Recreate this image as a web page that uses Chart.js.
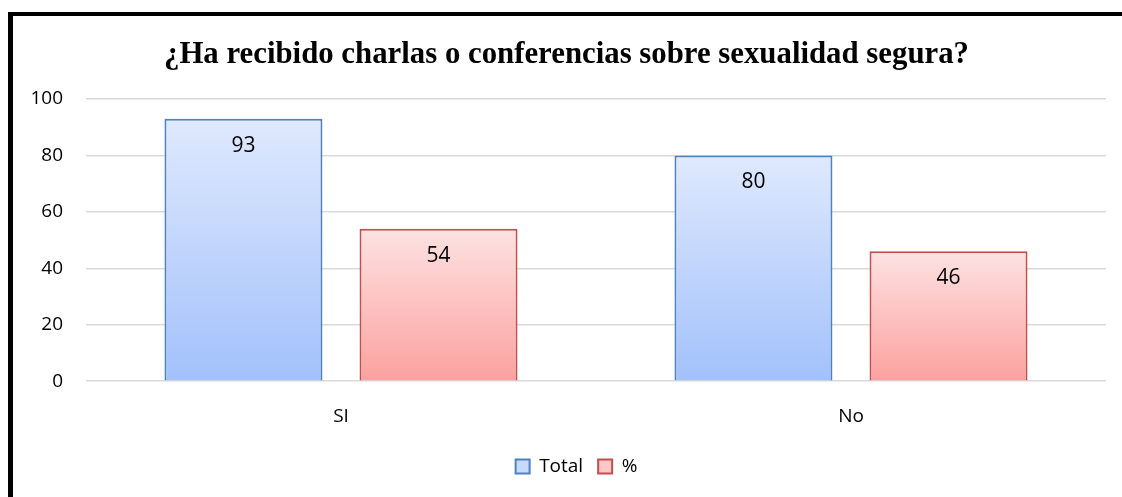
<!DOCTYPE html>
<html><head><meta charset="utf-8">
<script src="https://cdn.jsdelivr.net/npm/chart.js@4"></script>
<style>
html,body{margin:0;padding:0;background:#fff;overflow:hidden}
#frame{position:absolute;left:8px;top:12px;width:1300px;height:700px;border-left:5px solid #000;border-top:4px solid #000;box-sizing:border-box}
#wrap{position:absolute;left:0;top:0;width:1122px;height:497px}
</style></head>
<body>
<div id="frame"></div>
<div id="wrap"><canvas id="c" width="1122" height="497"></canvas></div>
<script>
const categories = ['SI', 'No'];
const totalValues = [93, 80];
const pctValues = [54, 46];
const yTicks = [0, 20, 40, 60, 80, 100];
const titleText = '¿Ha recibido charlas o conferencias sobre sexualidad segura?';

const FONT = '"Open Sans", Lato, sans-serif';

function grad(top, bottom) {
  return function(ctx) {
    const chart = ctx.chart;
    if (ctx.type !== 'data' || !chart.chartArea) return bottom;
    const ys = chart.scales.y;
    const yTop = ys.getPixelForValue(ctx.raw);
    const yBot = ys.getPixelForValue(0);
    const g = chart.ctx.createLinearGradient(0, yTop, 0, yBot);
    g.addColorStop(0, top);
    g.addColorStop(1, bottom);
    return g;
  };
}

const valueLabels = {
  id: 'valueLabels',
  afterDatasetsDraw(chart) {
    const ctx = chart.ctx;
    ctx.save();
    ctx.font = '21px ' + FONT;
    ctx.fillStyle = '#000';
    ctx.textAlign = 'center';
    ctx.textBaseline = 'middle';
    chart.data.datasets.forEach((ds, di) => {
      chart.getDatasetMeta(di).data.forEach((bar, i) => {
        ctx.fillText(String(ds.data[i]), bar.x, bar.y + 27);
      });
    });
    ctx.restore();
  }
};

const boxShift = {
  id: 'boxShift',
  afterLayout(chart) {
    const l = chart.legend;
    if (l) { l.left += 17; l.right += 17; l.top -= 2; l.bottom -= 2; }
    const t = chart.titleBlock;
    if (t) { t.left += 7; t.right += 7; }
  }
};

new Chart(document.getElementById('c'), {
  type: 'bar',
  data: {
    labels: categories,
    datasets: [
      { label: 'Total', data: totalValues,
        backgroundColor: grad('#dfe9fd', '#a2c1fb'), borderColor: '#4f81bd', borderWidth: 2,
        categoryPercentage: 0.765, barPercentage: 0.81 },
      { label: '%', data: pctValues,
        backgroundColor: grad('#fde2e2', '#fca19f'), borderColor: '#c0504d', borderWidth: 2,
        categoryPercentage: 0.765, barPercentage: 0.81 }
    ]
  },
  options: {
    responsive: false,
    animation: false,
    layout: { padding: { left: 13, right: 16, top: 0, bottom: 9 } },
    scales: {
      x: {
        grid: { display: false },
        border: { display: false },
        ticks: { color: '#000', font: { size: 19, family: FONT }, padding: 16 }
      },
      y: {
        min: 0, max: 100,
        afterBuildTicks(s) { s.ticks = yTicks.map(v => ({ value: v })); },
        afterFit(s) { s.width = 73; },
        grid: { color: '#d9d9d9', lineWidth: 1.5, drawTicks: false },
        border: { display: false },
        ticks: { color: '#000', font: { size: 19, family: FONT }, padding: 23 }
      }
    },
    plugins: {
      title: {
        display: true, text: titleText, color: '#000',
        font: { family: '"Liberation Serif", "Times New Roman", serif', size: 30.8, weight: 'bold' },
        padding: { top: 37, bottom: 25 }
      },
      legend: {
        position: 'bottom',
        labels: {
          color: '#000', font: { size: 19, family: FONT },
          boxWidth: 14, boxHeight: 14, padding: 15,
          generateLabels(chart) {
            const fills = ['#c7dafc', '#fdc8c7'];
            const borders = ['#4f81bd', '#c0504d'];
            return chart.data.datasets.map((d, i) => ({
              text: d.label, fillStyle: fills[i], strokeStyle: borders[i], lineWidth: 2,
              datasetIndex: i, hidden: false
            }));
          }
        }
      },
      tooltip: { enabled: false }
    }
  },
  plugins: [valueLabels, boxShift]
});
</script>
</body></html>
